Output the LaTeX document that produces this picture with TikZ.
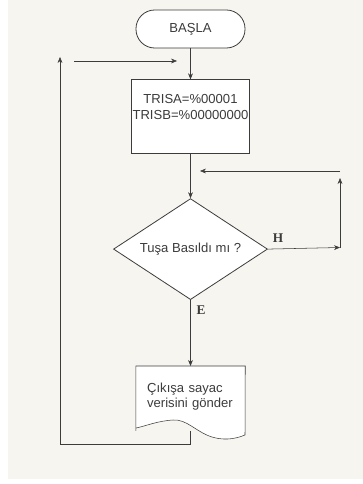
\documentclass[tikz,border=0pt]{standalone}
\usepackage{fontspec}
\setmainfont{Liberation Sans}
\newfontfamily\labelfont{Liberation Serif}
\usetikzlibrary{arrows.meta,shapes.geometric,positioning,backgrounds}
\definecolor{paper}{HTML}{F7F5EF}
\definecolor{ink}{HTML}{3C3C3C}

\begin{document}
\begin{tikzpicture}[x=0.75pt,y=-0.75pt,>={Stealth[length=4.5pt,width=3.6pt]},line width=0.6pt,
                    font=\fontsize{9.8}{11.5}\selectfont,text=ink]
  \tikzstyle{terminal}=[rectangle,rounded corners=14pt,draw=ink,fill=white,
                        minimum width=81.75pt,minimum height=28.5pt]
  \tikzstyle{process}=[rectangle,draw=ink,fill=white,align=center,inner sep=1pt,
                       minimum width=81.75pt,minimum height=55.5pt]
  \tikzstyle{decision}=[diamond,draw=ink,fill=white,inner sep=0pt,aspect=1.52,
                        minimum width=115.5pt,minimum height=75.75pt]
  \tikzstyle{document}=[rectangle,align=left,text width=65pt,inner xsep=8.25pt,
                        minimum height=48pt]
  \tikzstyle{yesno}=[font=\labelfont\bfseries\fontsize{10}{12}\selectfont]
  \tikzstyle{flow}=[draw=ink,->]

  \useasboundingbox (0,0) rectangle (363,484);

  \node[terminal]  (basla)  at (190.5,29)                {BAŞLA};
  \node[process]   (init)   [below=23.25pt of basla]     {TRISA=\%00001\\TRISB=\%00000000\\ \strut};
  \node[decision]  (tus)    [below=33pt of init]         {Tuşa Basıldı mı ?};
  \node[document]  (cikis)  [below=49.5pt of tus]        {\\[-7pt]Çıkışa sayac\\verisini gönder};

  \begin{pgfonlayer}{background}
    \fill[white] (0,0) rectangle (363,484);
    \fill[paper] (8,0) rectangle (363,479);
    % document outline with wavy bottom
    \draw[draw=ink,fill=white] (cikis.south west) -- (cikis.north west) -- (cikis.north east)
        -- ++(0,7) -- (245,435) .. controls (233,440) and (222,440) .. (212,437)
        .. controls (196,432) and (187,419) .. (173,420)
        .. controls (157,421) and (146,426) .. (136,428) -- cycle;
  \end{pgfonlayer}

  \coordinate (hend)   at (340,247.5);
  \coordinate (hup)    at (340,178);
  \coordinate (htop)   at (340,171);
  \coordinate (hback)  at (200,171);
  \coordinate (loopup) at (60,57);
  \coordinate (loopin) at (74,61);
  \coordinate (loopto) at (177,61);

  \path (basla) edge[flow] (init);
  \path (init)  edge[flow] (tus);
  \path (tus.east) edge[flow] node[yesno,above=1pt,pos=0.14] {H} (hend);
  \path (hend) edge[flow] (hup);
  \path (htop) edge[flow] (hback);
  \path (tus.south) edge[flow] node[yesno,right=1pt,pos=0.15] {E} (cikis.north);
  \draw[flow] (cikis.south) -- ++(0,13) -| (loopup);
  \path (loopin) edge[flow] (loopto);

\end{tikzpicture}
\end{document}
